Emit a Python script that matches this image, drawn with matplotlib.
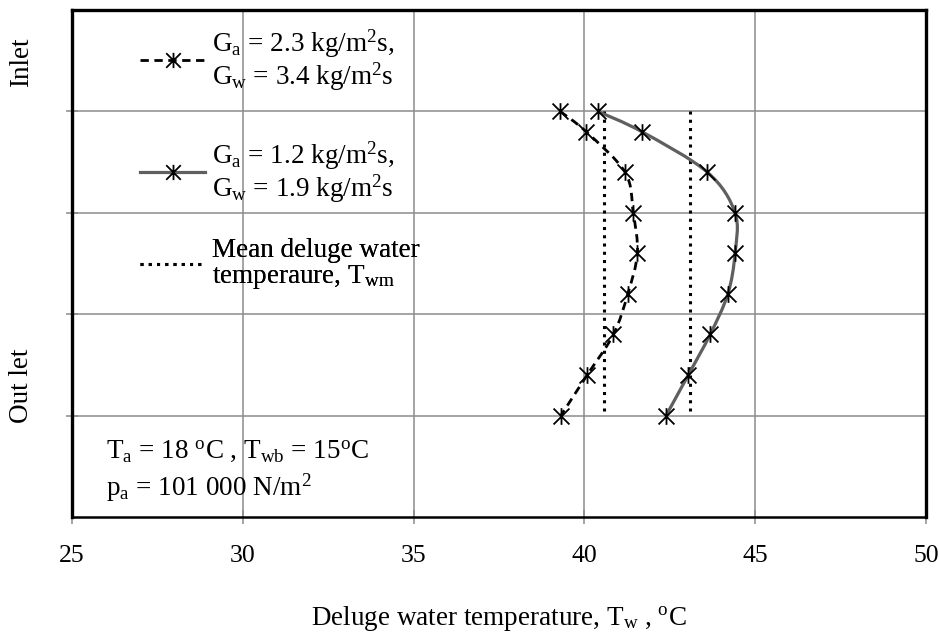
import numpy as np
import matplotlib
matplotlib.use("Agg")
import matplotlib.pyplot as plt
from matplotlib.path import Path
from matplotlib.patches import PathPatch
from matplotlib.lines import Line2D

plt.rcParams['font.family'] = ['Liberation Serif', 'DejaVu Serif']
plt.rcParams['mathtext.fontset'] = 'custom'
plt.rcParams['mathtext.rm'] = 'Liberation Serif'
plt.rcParams['mathtext.it'] = 'Liberation Serif:italic'
plt.rcParams['mathtext.bf'] = 'Liberation Serif:bold'

# height positions along the tower (no labels on this axis)
height_pos = [4.0, 3.8, 3.4, 3.0, 2.6, 2.2, 1.8, 1.4, 1.0]
# deluge water temperature, degC
t_case1 = [39.29, 40.05, 41.19, 41.43, 41.55, 41.27, 40.85, 40.08, 39.31]   # Ga 2.3, Gw 3.4
t_case2 = [40.39, 41.68, 43.60, 44.41, 44.41, 44.20, 43.68, 43.04, 42.39]   # Ga 1.2, Gw 1.9
t_mean1 = 40.58
t_mean2 = 43.09
mean_span = [4.0, 1.05]

x_ticks = [25, 30, 35, 40, 45, 50]

lab1 = r'G$_\mathrm{a}$ = 2.3 kg/m$^\mathrm{2}$s,' + '\n' + r'G$_\mathrm{w}$ = 3.4 kg/m$^\mathrm{2}$s'
lab2 = r'G$_\mathrm{a}$ = 1.2 kg/m$^\mathrm{2}$s,' + '\n' + r'G$_\mathrm{w}$ = 1.9 kg/m$^\mathrm{2}$s'
lab3 = 'Mean deluge water\n' + r'temperaure, T$_\mathrm{wm}$'

GRID = '#8c8c8c'
SOLID = '#5f5f5f'

# asterisk marker like excel's star
star = Path([(-1, -1), (1, 1), (-1, 1), (1, -1), (0, -1.05), (0, 1.05)],
            [Path.MOVETO, Path.LINETO, Path.MOVETO, Path.LINETO, Path.MOVETO, Path.LINETO])


def smooth(xs, ys):
    # excel style smoothed line (catmull-rom as bezier)
    p = np.column_stack([xs, ys])
    e = np.vstack([p[0], p, p[-1]])
    verts = [p[0]]
    codes = [Path.MOVETO]
    for i in range(len(p) - 1):
        c1 = e[i + 1] + (e[i + 2] - e[i]) / 6.0
        c2 = e[i + 2] - (e[i + 3] - e[i + 1]) / 6.0
        verts += [c1, c2, e[i + 2]]
        codes += [Path.CURVE4] * 3
    return Path(verts, codes)


fig = plt.figure(figsize=(9.39, 6.42), dpi=100)
ax = fig.add_axes([72/939, 1 - 517/642, 854/939, 507/642])

ax.set_xlim(25, 50)
ax.set_ylim(0, 5)
ax.set_xticks(x_ticks)
ax.set_yticks([1, 2, 3, 4])
ax.set_yticklabels([])
ax.grid(True, color=GRID, lw=1.1)
ax.set_axisbelow(True)
ax.tick_params(axis='x', direction='inout', length=10, width=1.1, color=GRID,
               labelsize=18.5, pad=15)
ax.tick_params(axis='y', direction='inout', length=8, width=1.1, color=GRID)
for s in ['left', 'top', 'right']:
    ax.spines[s].set_linewidth(2.4)
    ax.spines[s].set_color('black')
ax.spines['bottom'].set_linewidth(1.8)
ax.spines['bottom'].set_color('black')

# mean lines
ax.plot([t_mean1, t_mean1], mean_span, color='black', lw=2.2, linestyle=(0, (1, 1.7)), zorder=3)
ax.plot([t_mean2, t_mean2], mean_span, color='black', lw=2.2, linestyle=(0, (1, 1.7)), zorder=3)

# smoothed curves
ax.add_patch(PathPatch(smooth(t_case1, height_pos), fill=False, edgecolor='black',
                       lw=2.0, linestyle=(0, (3, 2)), zorder=4))
ax.add_patch(PathPatch(smooth(t_case2, height_pos), fill=False, edgecolor=SOLID,
                       lw=2.3, zorder=4))
ax.plot(t_case1, height_pos, linestyle='none', marker=star, ms=12, mew=1.3,
        mec='black', mfc='none', zorder=5)
ax.plot(t_case2, height_pos, linestyle='none', marker=star, ms=12, mew=1.3,
        mec='black', mfc='none', zorder=5)

# legend, one box per entry
h1 = Line2D([], [], color='black', lw=2.0, linestyle=(0, (3, 2)), marker=star, ms=11, mew=1.3, mec='black')
h2 = Line2D([], [], color=SOLID, lw=2.3, marker=star, ms=11, mew=1.3, mec='black')
h3 = Line2D([], [], color='black', lw=2.2, linestyle=(0, (1, 1.7)))
for h, lab, yp in [(h1, lab1, 60), (h2, lab2, 172), (h3, lab3, 264)]:
    leg = ax.legend([h], [lab], loc='center left', bbox_to_anchor=(140/939, 1 - yp/642),
                    bbox_transform=fig.transFigure, frameon=False, borderpad=0,
                    borderaxespad=0, handlelength=2.4, handletextpad=0.26,
                    fontsize=19.5)
    for t in leg.get_texts():
        t.set_linespacing(1.0)
    ax.add_artist(leg)

fig.text(106/939, 1 - 458/642, r'T$_\mathrm{a}$ = 18 $^\mathrm{o}$C , T$_\mathrm{wb}$ = 15$^\mathrm{o}$C',
         fontsize=19.5, va='baseline')
fig.text(106/939, 1 - 496/642, r'p$_\mathrm{a}$ = 101 000 N/m$^\mathrm{2}$',
         fontsize=19.5, va='baseline')

fig.text(22/939, 1 - 62/642, 'Inlet', rotation=90, fontsize=19.5, ha='center', va='center')
fig.text(22/939, 1 - 386/642, 'Out let', rotation=90, fontsize=19.5, ha='center', va='center')

ax.set_xlabel(r'Deluge water temperature, T$_\mathrm{w}$ , $^\mathrm{o}$C', fontsize=19.5, va='baseline')
ax.xaxis.set_label_coords(0.5, (517 - 625) / 507)

fig.savefig('out.png', dpi=100)
